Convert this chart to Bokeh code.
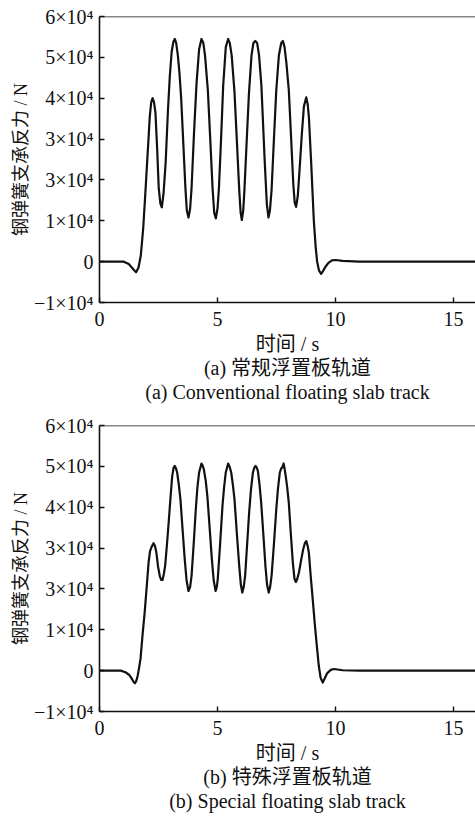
from bokeh.plotting import figure
from bokeh.models import FixedTicker, Span, ColumnDataSource, Range1d
from bokeh.layouts import column
from bokeh.embed import file_html
from bokeh.resources import INLINE

# ---- data (time in s, spring support force in N) ----
time_a = [0, 0.5, 1.03, 1.24, 1.45, 1.55, 1.65, 1.75, 1.85, 1.95, 2.05, 2.13, 2.19, 2.25, 2.31, 2.37,
          2.44, 2.51, 2.58, 2.64, 2.71, 2.80, 2.90, 2.98, 3.06, 3.13, 3.19, 3.25, 3.32, 3.39, 3.46,
          3.55, 3.64, 3.70, 3.77, 3.84, 3.90, 4.00, 4.11, 4.22, 4.32, 4.40, 4.47, 4.59, 4.70, 4.79,
          4.86, 4.93, 5.00, 5.06, 5.15, 5.24, 5.35, 5.45, 5.52, 5.60, 5.72, 5.82, 5.92, 5.98, 6.03,
          6.09, 6.14, 6.24, 6.33, 6.44, 6.52, 6.60, 6.68, 6.76, 6.86, 7.00, 7.09, 7.16, 7.22, 7.29,
          7.39, 7.49, 7.60, 7.70, 7.77, 7.84, 7.92, 8.02, 8.12, 8.21, 8.27, 8.33, 8.40, 8.47, 8.57,
          8.66, 8.76, 8.82, 8.87, 8.97, 9.08, 9.16, 9.22, 9.30, 9.39, 9.48, 9.58, 9.70, 9.85, 10.0,
          10.3, 11, 12, 13, 14, 15, 16]
force_a = [0, 0, 0, -600, -2000, -2600, -1500, 1500, 8000, 17500, 27500, 35500, 39000, 40000, 39000, 36500,
           28000, 18000, 14200, 13300, 16500, 24000, 37000, 45500, 51500, 53800, 54500, 53500, 50500, 46000, 40000,
           29000, 18000, 12500, 10800, 13000, 18000, 31000, 43500, 52000, 54500, 53500, 50500, 42000, 29000, 18000,
           12000, 10600, 13000, 18000, 30000, 43000, 52500, 54500, 53500, 50500, 41500, 29500, 17500, 12000, 10200,
           12500, 17500, 30000, 41000, 50500, 53500, 54000, 53500, 50500, 43000, 24500, 14000, 10800, 12500, 17500,
           30000, 42000, 50500, 53500, 54000, 52500, 48500, 42000, 30000, 19000, 14500, 13400, 16000, 22000, 31000,
           38000, 40200, 38500, 35500, 24000, 10000, 3500, 0, -2200, -3000, -2200, -1200, -300, 300, 400,
           200, 0, 0, 0, 0, 0, 0]

time_b = [0, 0.5, 0.9, 1.10, 1.25, 1.36, 1.45, 1.50, 1.56, 1.62, 1.68, 1.74, 1.82, 1.91, 2.00, 2.08,
          2.14, 2.20, 2.29, 2.35, 2.41, 2.48, 2.56, 2.62, 2.67, 2.73, 2.78, 2.86, 2.94, 3.01, 3.08,
          3.14, 3.19, 3.24, 3.29, 3.36, 3.43, 3.52, 3.61, 3.69, 3.77, 3.84, 3.90, 3.99, 4.08, 4.15,
          4.22, 4.32, 4.37, 4.42, 4.50, 4.57, 4.66, 4.76, 4.84, 4.92, 4.97, 5.01, 5.11, 5.21, 5.28,
          5.35, 5.45, 5.52, 5.58, 5.65, 5.72, 5.82, 5.92, 5.99, 6.05, 6.11, 6.17, 6.25, 6.34, 6.42,
          6.50, 6.56, 6.61, 6.66, 6.71, 6.78, 6.85, 6.94, 7.03, 7.10, 7.17, 7.23, 7.29, 7.39, 7.49,
          7.56, 7.64, 7.70, 7.74, 7.80, 7.84, 7.89, 7.95, 8.02, 8.10, 8.19, 8.26, 8.32, 8.38, 8.45,
          8.54, 8.63, 8.70, 8.76, 8.82, 8.87, 8.95, 9.04, 9.12, 9.20, 9.29, 9.37, 9.46, 9.55, 9.65,
          9.80, 9.93, 10.3, 11, 12, 13, 14, 15, 16]
force_b = [0, 0, 0, -400, -1000, -1900, -2800, -3100, -2500, -1200, 800, 3000, 8500, 14000, 20500, 26500,
           29200, 30200, 31200, 30500, 28900, 25500, 23000, 22200, 22200, 23800, 25600, 31000, 37000, 42500, 47600,
           49700, 50100, 49500, 48500, 45500, 41900, 34500, 27300, 22000, 19500, 20500, 23200, 31000, 39500, 45000,
           48500, 50700, 50200, 49300, 46500, 42700, 35500, 27300, 22000, 19500, 20500, 22400, 31000, 40300, 45000,
           48500, 50700, 49800, 48500, 45500, 41900, 33500, 25600, 21000, 19100, 20500, 23200, 30500, 38700, 44500,
           48500, 49700, 50100, 49700, 48900, 45500, 41100, 33500, 25600, 21000, 19100, 20500, 23200, 31000, 39500,
           44500, 48500, 49500, 49700, 50700, 49500, 47600, 45000, 41100, 34000, 26500, 22500, 21700, 22500, 24000,
           27000, 29700, 31200, 31700, 30500, 28900, 23000, 17000, 11500, 6500, 1200, -1800, -2900, -1800, -600,
           200, 400, 100, 0, 0, 0, 0, 0, 0]

x_ticks = [0, 5, 10, 15]
y_ticks = [-10000, 0, 10000, 20000, 30000, 40000, 50000, 60000]
y_tick_labels = ["\u22121\u00d710\u2074", "0", "1\u00d710\u2074", "3\u00d710\u2074", "3\u00d710\u2074",
                 "4\u00d710\u2074", "5\u00d710\u2074", "6\u00d710\u2074"]
y_label = "钢弹簧支承反力 / N"
x_label = "时间 / s"
captions = [("(a) 常规浮置板轨道", "(a) Conventional floating slab track"),
            ("(b) 特殊浮置板轨道", "(b) Special floating slab track")]

SERIF = "Liberation Serif, Noto Sans CJK SC"
INK = "#111111"

X_MAX = 15.93
Y_MIN, Y_MAX = -10000, 60000


def make_panel(t, f, cap_cn, cap_en, top_border):
    p = figure(frame_width=376, frame_height=286, output_backend="svg", toolbar_location=None,
               x_range=Range1d(0, X_MAX), y_range=Range1d(Y_MIN, Y_MAX),
               min_border_left=99, min_border_right=0, min_border_top=top_border,
               min_border_bottom=0)
    p.outline_line_color = None
    p.xgrid.visible = False
    p.ygrid.visible = False
    p.background_fill_color = "white"
    p.border_fill_color = "white"

    src = ColumnDataSource(dict(t=t, f=f))
    p.line("t", "f", source=src, line_color=INK, line_width=2.2, line_join="round")

    p.add_layout(Span(location=Y_MAX, dimension="width", line_color=INK, line_width=1.6))

    for ax in (p.xaxis[0], p.yaxis[0]):
        ax.axis_line_color = INK
        ax.axis_line_width = 1.6
        ax.major_tick_line_color = INK
        ax.major_tick_line_width = 1.4
        ax.major_tick_in = 5
        ax.major_tick_out = 0
        ax.minor_tick_line_color = None
        ax.major_label_text_font = SERIF
        ax.major_label_text_font_size = "20px"
        ax.major_label_text_color = INK
        ax.axis_label_text_font = SERIF
        ax.axis_label_text_font_style = "normal"
        ax.axis_label_text_color = INK

    p.xaxis.axis_label_text_font_size = "20px"
    p.xaxis.axis_label_text_line_height = 1.1
    p.yaxis.axis_label_text_font_size = "18px"
    p.xaxis.ticker = FixedTicker(ticks=x_ticks, minor_ticks=[])
    p.yaxis.ticker = FixedTicker(ticks=y_ticks, minor_ticks=[])
    p.yaxis.major_label_overrides = {v: s for v, s in zip(y_ticks, y_tick_labels)}
    p.xaxis.major_label_standoff = 9
    p.yaxis.major_label_standoff = 6
    # axis label followed by the two caption lines of the panel
    p.xaxis.axis_label = "\n".join([x_label, cap_cn, cap_en])
    p.yaxis.axis_label = y_label
    p.xaxis.axis_label_standoff = 4
    p.yaxis.axis_label_standoff = 0
    return p


p1 = make_panel(time_a, force_a, captions[0][0], captions[0][1], 16)
p2 = make_panel(time_b, force_b, captions[1][0], captions[1][1], 20)
layout = column(p1, p2, spacing=0)

open("out.html", "w").write(file_html(layout, INLINE))
